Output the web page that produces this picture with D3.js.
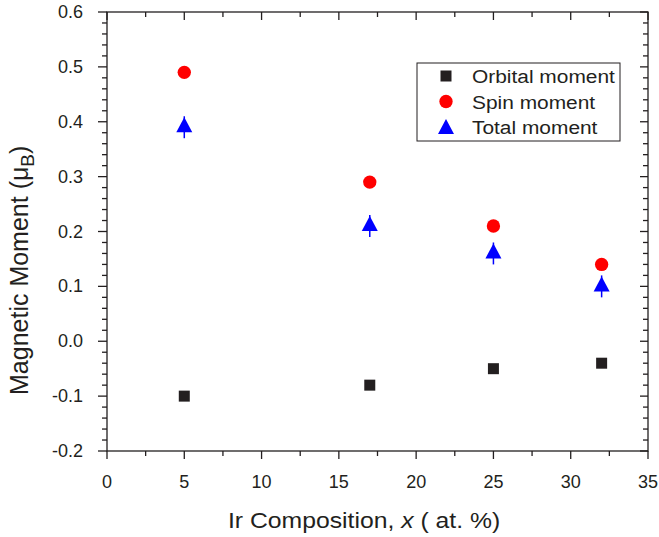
<!DOCTYPE html>
<html><head><meta charset="utf-8">
<script src="https://cdn.jsdelivr.net/npm/d3@7"></script>
<style>
body{margin:0;background:#fff;}
svg{font-family:"Liberation Sans",Arial,sans-serif;}
</style></head>
<body>
<svg id="c" width="659" height="537"></svg>
<script>
const composition = [5, 17, 25, 32];
const orbital = [-0.10, -0.08, -0.05, -0.04];
const spin = [0.49, 0.29, 0.21, 0.14];
const total = [0.39, 0.21, 0.16, 0.10];
const totalErr = [0.02, 0.02, 0.02, 0.02];
const xTicks = [0, 5, 10, 15, 20, 25, 30, 35];
const yTicks = [-0.2, -0.1, 0.0, 0.1, 0.2, 0.3, 0.4, 0.5, 0.6];
const seriesNames = ["Orbital moment", "Spin moment", "Total moment"];

const svg = d3.select("#c");
const L = 107, R = 648, T = 12, B = 451;
const x = d3.scaleLinear().domain([0, 35]).range([L, R]);
const y = d3.scaleLinear().domain([-0.2, 0.6]).range([B, T]);
const ink = "#231f20";

const g = svg.append("g");
g.append("rect").attr("x", L).attr("y", T).attr("width", R - L).attr("height", B - T)
  .attr("fill", "none").attr("stroke", ink).attr("stroke-width", 1.3);

const xMinor = d3.range(0, 35.01, 2.5);
const yMinor = d3.range(-0.2, 0.601, 0.02);

xMinor.forEach(v => {
  const major = Math.abs(v % 5) < 1e-6;
  g.append("line").attr("x1", x(v)).attr("x2", x(v)).attr("y1", B).attr("y2", B + (major ? 8 : 5))
    .attr("stroke", ink).attr("stroke-width", 1.3);
  g.append("line").attr("x1", x(v)).attr("x2", x(v)).attr("y1", T).attr("y2", T + (major ? 8 : 5))
    .attr("stroke", ink).attr("stroke-width", 1.3);
});
yMinor.forEach(v => {
  const major = Math.abs(Math.round(v * 50) % 5) === 0;
  g.append("line").attr("y1", y(v)).attr("y2", y(v)).attr("x1", L).attr("x2", L - (major ? 9 : 5))
    .attr("stroke", ink).attr("stroke-width", 1.3);
  g.append("line").attr("y1", y(v)).attr("y2", y(v)).attr("x1", R).attr("x2", R - (major ? 8 : 5))
    .attr("stroke", ink).attr("stroke-width", 1.3);
});

g.selectAll(".xl").data(xTicks).enter().append("text")
  .attr("x", d => x(d)).attr("y", 488).attr("text-anchor", "middle")
  .attr("font-size", 18).attr("fill", ink).text(d => d);
g.selectAll(".yl").data(yTicks).enter().append("text")
  .attr("x", 83).attr("y", d => y(d) + 6).attr("text-anchor", "end")
  .attr("font-size", 18).attr("fill", ink).text(d => d3.format(".1f")(d).replace("\u2212", "-"));

// axis titles
const xt = svg.append("text").attr("transform", "translate(228,528) scale(1.1,1)")
  .attr("font-size", 22.5).attr("fill", ink);
xt.append("tspan").text("Ir Composition, ");
xt.append("tspan").attr("font-style", "italic").text("x");
xt.append("tspan").text(" ( at. %)");

const yt = svg.append("text").attr("transform", "translate(28,395) rotate(-90)")
  .attr("text-anchor", "start").attr("font-size", 25).attr("fill", ink);
yt.append("tspan").text("Magnetic Moment (\u03BC");
yt.append("tspan").attr("font-size", 19).attr("dy", 6).text("B");
yt.append("tspan").attr("dy", -6).text(")");

// error bars for total
composition.forEach((c, i) => {
  g.append("line").attr("x1", x(c)).attr("x2", x(c))
    .attr("y1", y(total[i] + totalErr[i])).attr("y2", y(total[i] - totalErr[i]))
    .attr("stroke", "#0000ff").attr("stroke-width", 1.5);
});

const sq = d3.symbol().type(d3.symbolSquare).size(121);
const ci = d3.symbol().type(d3.symbolCircle).size(140);
const tri = "M0,-10L8,5L-8,5Z";

g.selectAll(".o").data(composition).enter().append("path")
  .attr("d", sq).attr("transform", (d, i) => `translate(${x(d)},${y(orbital[i])})`).attr("fill", ink);
g.selectAll(".s").data(composition).enter().append("path")
  .attr("d", ci).attr("transform", (d, i) => `translate(${x(d)},${y(spin[i])})`).attr("fill", "#ff0000");
g.selectAll(".t").data(composition).enter().append("path")
  .attr("d", tri).attr("transform", (d, i) => `translate(${x(d)},${y(total[i])})`).attr("fill", "#0000ff");

// legend
const lg = svg.append("g");
lg.append("rect").attr("x", 417).attr("y", 63).attr("width", 203).attr("height", 78)
  .attr("fill", "#fff").attr("stroke", ink).attr("stroke-width", 1);
const syms = [sq(), ci(), tri], cols = [ink, "#ff0000", "#0000ff"];
seriesNames.forEach((n, i) => {
  const yy = 76 + i * 25.5;
  lg.append("path").attr("d", syms[i]).attr("transform", `translate(446,${yy + (i === 2 ? 2 : 0)})`).attr("fill", cols[i]);
  lg.append("text").attr("transform", `translate(472,${yy + 7}) scale(1.1,1)`)
    .attr("font-size", 19).attr("fill", ink).text(n);
});
</script>
</body></html>
